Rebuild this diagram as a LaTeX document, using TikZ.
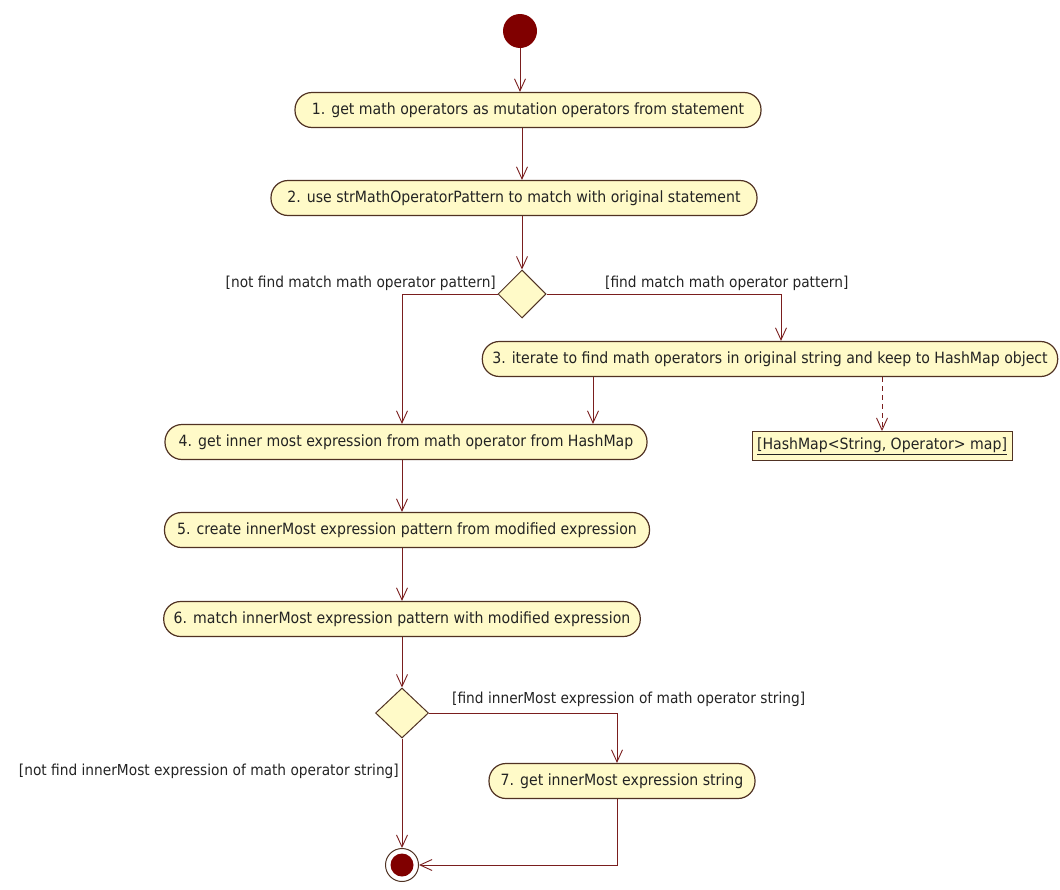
\documentclass[tikz,border=0pt]{standalone}
\usepackage{fontspec}
\setmainfont[FakeStretch=0.91]{DejaVu Sans}
\usetikzlibrary{shapes.geometric,arrows.meta}
\definecolor{actfill}{RGB}{255,250,200}
\definecolor{actline}{RGB}{80,50,35}
\definecolor{flowline}{RGB}{122,30,30}
\definecolor{dot}{RGB}{128,0,0}
\definecolor{txt}{RGB}{35,35,35}
\begin{document}
\begin{tikzpicture}[x=1pt,y=-1pt,
  font=\fontsize{15.5}{19}\selectfont, text=txt,
  action/.style={draw=actline, line width=1.2pt, fill=actfill, rounded corners=17pt,
    minimum height=35pt, inner xsep=10pt, inner ysep=0pt},
  choice/.style={draw=actline, line width=1pt, fill=actfill, shape=diamond,
    inner sep=0pt},
  objbox/.style={draw=actline, line width=1pt, fill=actfill, minimum height=29pt,
    inner xsep=4pt},
  guard/.style={inner sep=0pt, font=\fontsize{15.1}{19}\selectfont},
  flow/.style={draw=flowline, line width=1pt,
    -{Straight Barb[length=12pt,width=11pt,line width=0.9pt]}},
  objflow/.style={flow, dashed, dash pattern=on 5pt off 4pt}]
\useasboundingbox (0,0) rectangle (1060,889);

% initial and final nodes
\node[circle, fill=dot, minimum size=34pt, inner sep=0pt] (start) at (520,31) {};
\node[circle, draw=actline, line width=1pt, fill=white, minimum size=33pt, inner sep=0pt] (end) at (402,865) {};
\node[circle, fill=dot, minimum size=23pt, inner sep=0pt] at (end.center) {};

% actions
\node[action, minimum width=466pt] (a1) at (528,110) {1. get math operators as mutation operators from statement};
\node[action, minimum width=486pt] (a2) at (514,198) {2. use strMathOperatorPattern to match with original statement};
\node[choice, minimum width=48pt, minimum height=48pt] (d1) at (522,294) {};
\node[action, minimum width=575pt] (a3) at (770,359) {3. iterate to find math operators in original string and keep to HashMap object};
\node[objbox, minimum width=260pt] (obj) at (882,446) {\underline{[HashMap<String, Operator> map]}};
\node[action, minimum width=482pt] (a4) at (406,442) {4. get inner most expression from math operator from HashMap};
\node[action, minimum width=485pt] (a5) at (407,530) {5. create innerMost expression pattern from modified expression};
\node[action, minimum width=474pt] (a6) at (402,619) {6. match innerMost expression pattern with modified expression};
\node[choice, minimum width=53pt, minimum height=50pt] (d2) at (402,713) {};
\node[action, minimum width=266pt] (a7) at (622,781) {7. get innerMost expression string};

% guards
\node[guard, anchor=east] (g1) at (496,283) {[not find match math operator pattern]};
\node[guard, anchor=west] (g2) at (605,283) {[find match math operator pattern]};
\node[guard, anchor=west] (g3) at (452,699) {[find innerMost expression of math operator string]};
\node[guard, anchor=east] (g4) at (399,771) {[not find innerMost expression of math operator string]};

% branch columns
\coordinate (colR) at (781,0);
\coordinate (colM) at (593,0);
\coordinate (col7) at (617,0);

% control flow
\draw[flow] (start.south -| start) -- (a1.north -| start);
\draw[flow] (a1.south -| d1) -- (a2.north -| d1);
\draw[flow] (a2.south -| d1) -- (d1.north);
\draw[flow] (d1.west) -| (a4.north -| d2);
\draw[flow] (d1.east) -| (a3.north -| colR);
\draw[flow] (a3.south -| colM) -- (a4.north -| colM);
\draw[objflow] (a3.south -| obj) -- (obj.north);
\draw[flow] (a4.south -| d2) -- (a5.north -| d2);
\draw[flow] (a5.south -| d2) -- (a6.north -| d2);
\draw[flow] (a6.south -| d2) -- (d2.north);
\draw[flow] (d2.east) -| (a7.north -| col7);
\draw[flow] (d2.south) -- (end.north);
\draw[flow] (a7.south -| col7) |- (end.east);
\end{tikzpicture}
\end{document}
